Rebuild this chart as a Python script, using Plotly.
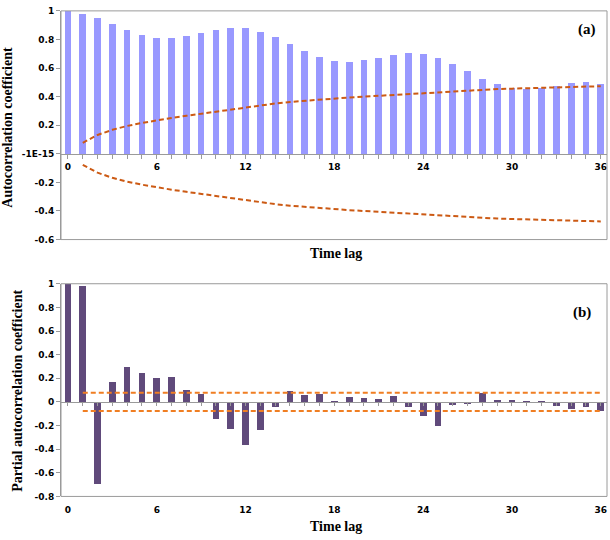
import plotly.graph_objects as go

lags = list(range(37))
acf = [1.0, 0.98, 0.95, 0.91, 0.865, 0.833, 0.813, 0.813, 0.827, 0.847, 0.87, 0.884, 0.88,
       0.856, 0.815, 0.767, 0.717, 0.68, 0.653, 0.646, 0.655, 0.673, 0.69, 0.703, 0.696,
       0.671, 0.628, 0.578, 0.525, 0.486, 0.459, 0.454, 0.459, 0.475, 0.493, 0.5, 0.491]
band_lags = list(range(1, 37))
acf_band = [0.077, 0.132, 0.168, 0.195, 0.216, 0.235, 0.251, 0.266, 0.281, 0.296, 0.311, 0.325,
            0.339, 0.352, 0.363, 0.372, 0.380, 0.387, 0.394, 0.400, 0.406, 0.413, 0.420, 0.427,
            0.433, 0.440, 0.445, 0.449, 0.453, 0.456, 0.459, 0.461, 0.464, 0.467, 0.470, 0.473]
pacf = [1.0, 0.986, -0.69, 0.169, 0.296, 0.243, 0.202, 0.21, 0.105, 0.072, -0.139, -0.225, -0.36,
        -0.236, -0.042, 0.094, 0.06, 0.065, 0.004, 0.041, 0.036, 0.027, 0.055, -0.039, -0.119,
        -0.2, -0.025, -0.012, 0.075, 0.022, 0.022, 0.003, 0.003, -0.036, -0.055, -0.042, -0.075]
pacf_band = [0.077] * 36

y1_ticks = [-0.6, -0.4, -0.2, 0, 0.2, 0.4, 0.6, 0.8, 1]
y1_text = ["-0.6", "-0.4", "-0.2", "-1E-15", "0.2", "0.4", "0.6", "0.8", "1"]
y2_ticks = [-0.8, -0.6, -0.4, -0.2, 0, 0.2, 0.4, 0.6, 0.8, 1]
y2_text = ["-0.8", "-0.6", "-0.4", "-0.2", "0", "0.2", "0.4", "0.6", "0.8", "1"]

W, H = 610, 540


def px(x):
    return x / W


def py(y):
    return (H - y) / H


L, R = px(61), px(607)
d1 = [py(239), py(6)]
d2 = [py(500.7), py(284)]
pos1 = d1[0] + 0.6 / 1.6 * (d1[1] - d1[0])
pos2 = d2[0] + 0.8 / 1.8 * (d2[1] - d2[0])

tickfont = dict(family="DejaVu Sans", size=9, color="black", weight="bold")
titlefont = dict(family="Liberation Serif", size=14, color="black", weight="bold")
axcol = "#9a9a9a"
xr = [-0.47, 36.42]
dash = "5px,3px"

fig = go.Figure()
fig.add_trace(go.Bar(x=lags, y=acf, width=0.45, marker=dict(color="#9999FF", line=dict(width=0)),
                     xaxis="x", yaxis="y", showlegend=False))
fig.add_trace(go.Scatter(x=band_lags, y=acf_band, mode="lines",
                         line=dict(color="#CC5A14", width=2, dash=dash),
                         xaxis="x", yaxis="y", showlegend=False))
fig.add_trace(go.Scatter(x=band_lags, y=[-v for v in acf_band], mode="lines",
                         line=dict(color="#CC5A14", width=2, dash=dash),
                         xaxis="x", yaxis="y", showlegend=False))

fig.add_trace(go.Bar(x=lags, y=pacf, width=0.45, marker=dict(color="#604A7B", line=dict(width=0)),
                     xaxis="x2", yaxis="y2", showlegend=False))
fig.add_trace(go.Scatter(x=band_lags, y=pacf_band, mode="lines",
                         line=dict(color="#F07E22", width=2, dash=dash),
                         xaxis="x2", yaxis="y2", showlegend=False))
fig.add_trace(go.Scatter(x=band_lags, y=[-v for v in pacf_band], mode="lines",
                         line=dict(color="#F07E22", width=2, dash=dash),
                         xaxis="x2", yaxis="y2", showlegend=False))
fig.add_trace(go.Scatter(x=[0], y=[0], mode="markers", marker=dict(opacity=0),
                         xaxis="x3", yaxis="y2", showlegend=False, hoverinfo="skip"))

fig.update_layout(
    width=W, height=H, margin=dict(l=0, r=0, t=0, b=0),
    paper_bgcolor="white", plot_bgcolor="white", bargap=0,
    xaxis=dict(domain=[L, R], range=xr, anchor="free", position=pos1,
               showline=True, linecolor=axcol, linewidth=1, showgrid=False, zeroline=False,
               tickmode="linear", tick0=0, dtick=6, ticks="outside", ticklen=4, tickcolor=axcol,
               minor=dict(dtick=1, tick0=0, ticks="outside", ticklen=4, tickcolor=axcol, showgrid=False),
               tickfont=tickfont),
    yaxis=dict(domain=d1, range=[-0.6, 1], tickvals=y1_ticks, ticktext=y1_text,
               showline=True, linecolor=axcol, linewidth=1, showgrid=False, zeroline=False,
               ticks="outside", ticklen=4, tickcolor=axcol, tickfont=tickfont, anchor="x"),
    xaxis2=dict(domain=[L, R], range=xr, anchor="y2", showline=False, showgrid=False, zeroline=False,
                tickmode="linear", tick0=0, dtick=6, ticks="outside", ticklen=5,
                tickcolor="rgba(0,0,0,0)", tickfont=tickfont),
    xaxis3=dict(range=xr, overlaying="x2", anchor="free", position=pos2,
                showline=True, linecolor=axcol, linewidth=1, showgrid=False, zeroline=False,
                showticklabels=False, tickmode="linear", tick0=0, dtick=1,
                ticks="outside", ticklen=3, tickcolor=axcol),
    yaxis2=dict(domain=d2, range=[-0.8, 1], tickvals=y2_ticks, ticktext=y2_text,
                showline=True, linecolor=axcol, linewidth=1, showgrid=False, zeroline=False,
                ticks="outside", ticklen=4, tickcolor=axcol, tickfont=tickfont, anchor="x2"),
    shapes=[
        dict(type="rect", xref="x domain", yref="y domain", x0=0, x1=1, y0=0, y1=1,
             line=dict(color=axcol, width=1), layer="above"),
        dict(type="rect", xref="x2 domain", yref="y2 domain", x0=0, x1=1, y0=0, y1=1,
             line=dict(color=axcol, width=1), layer="above"),
    ],
    annotations=[
        dict(text="Autocorrelation coefficient", x=px(8), y=py(125), xref="paper", yref="paper",
             textangle=-90, showarrow=False, font=titlefont, xanchor="center", yanchor="middle"),
        dict(text="Partial autocorrelation coefficient", x=px(18), y=py(393), xref="paper",
             yref="paper", textangle=-90, showarrow=False, font=titlefont,
             xanchor="center", yanchor="middle"),
        dict(text="Time lag", x=px(336), y=py(253), xref="paper", yref="paper",
             showarrow=False, font=titlefont, xanchor="center", yanchor="middle"),
        dict(text="Time lag", x=px(336), y=py(531), xref="paper", yref="paper",
             showarrow=False, font=titlefont, xanchor="center", yanchor="middle"),
        dict(text="(a)", x=px(587), y=py(25), xref="paper", yref="paper",
             showarrow=False, font=dict(family="Liberation Serif", size=15, color="black", weight="bold"),
             xanchor="center", yanchor="middle"),
        dict(text="(b)", x=px(582), y=py(313), xref="paper", yref="paper",
             showarrow=False, font=dict(family="Liberation Serif", size=15, color="black", weight="bold"),
             xanchor="center", yanchor="middle"),
    ],
)

# remove the browser's default 8px page margin so the figure sits at the window origin
fig.write_html("out.html", config={"displayModeBar": False},
               post_script="document.body.style.margin='0';document.body.style.overflow='hidden';")
